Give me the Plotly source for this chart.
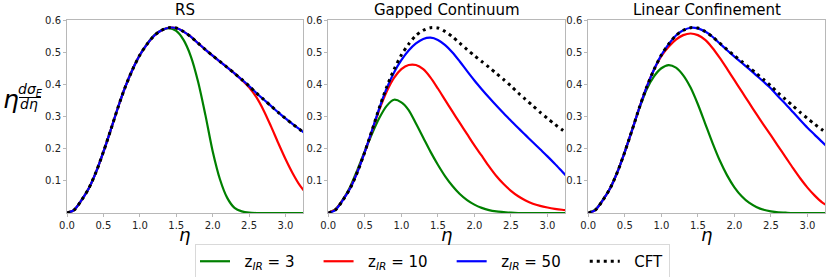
import plotly.graph_objects as go
from plotly.subplots import make_subplots

# ---------------- data ----------------
eta = [0.0, 0.1, 0.2, 0.3, 0.4, 0.5, 0.6, 0.7, 0.8, 0.9,
       1.0, 1.1, 1.2, 1.3, 1.4, 1.5, 1.6, 1.7, 1.8, 1.9,
       2.0, 2.1, 2.2, 2.3, 2.4, 2.5, 2.6, 2.7, 2.8, 2.9,
       3.0, 3.1, 3.2, 3.3]

cft = [0.000, 0.010, 0.040, 0.077, 0.128, 0.190, 0.258, 0.328, 0.392, 0.446,
       0.491, 0.525, 0.552, 0.568, 0.576, 0.575, 0.564, 0.548, 0.528, 0.508,
       0.489, 0.471, 0.453, 0.434, 0.415, 0.395, 0.373, 0.353, 0.333, 0.313,
       0.294, 0.276, 0.259, 0.242]

# RS
rs_z3 = [0.000, 0.010, 0.040, 0.077, 0.128, 0.190, 0.258, 0.328, 0.392, 0.446,
         0.491, 0.526, 0.553, 0.569, 0.575, 0.566, 0.538, 0.487, 0.408, 0.305,
         0.192, 0.105, 0.047, 0.016, 0.005, 0.001, 0.000, 0.000, 0.000, 0.000,
         0.000, 0.000, 0.000, 0.000]
rs_z10 = [0.000, 0.010, 0.040, 0.077, 0.128, 0.190, 0.258, 0.328, 0.392, 0.446,
          0.491, 0.525, 0.552, 0.568, 0.576, 0.575, 0.564, 0.548, 0.528, 0.508,
          0.489, 0.471, 0.453, 0.434, 0.414, 0.391, 0.360, 0.319, 0.270, 0.218,
          0.168, 0.123, 0.085, 0.057]
rs_z50 = [0.000, 0.010, 0.040, 0.077, 0.128, 0.190, 0.258, 0.328, 0.392, 0.446,
          0.491, 0.525, 0.552, 0.568, 0.576, 0.575, 0.564, 0.548, 0.528, 0.508,
          0.489, 0.471, 0.453, 0.434, 0.415, 0.395, 0.373, 0.353, 0.333, 0.313,
          0.294, 0.276, 0.259, 0.242]

# Gapped Continuum
gc_z3 = [0.000, 0.012, 0.042, 0.082, 0.135, 0.192, 0.247, 0.296, 0.333, 0.352,
         0.344, 0.320, 0.278, 0.234, 0.190, 0.150, 0.114, 0.084, 0.059, 0.040,
         0.026, 0.016, 0.009, 0.005, 0.003, 0.001, 0.000, 0.000, 0.000, 0.000,
         0.000, 0.000, 0.000, 0.000]
gc_z10 = [0.000, 0.011, 0.041, 0.078, 0.129, 0.190, 0.256, 0.322, 0.378, 0.420,
          0.447, 0.460, 0.460, 0.447, 0.421, 0.387, 0.351, 0.315, 0.280, 0.245,
          0.210, 0.178, 0.145, 0.115, 0.090, 0.069, 0.052, 0.039, 0.029, 0.022,
          0.017, 0.013, 0.010, 0.008]
gc_z50 = [0.000, 0.010, 0.040, 0.077, 0.128, 0.190, 0.258, 0.327, 0.388, 0.437,
          0.475, 0.505, 0.527, 0.541, 0.545, 0.538, 0.522, 0.499, 0.471, 0.441,
          0.412, 0.385, 0.359, 0.334, 0.310, 0.287, 0.264, 0.242, 0.220, 0.198,
          0.176, 0.153, 0.129, 0.105]

# Linear Confinement
lc_z3 = [0.000, 0.011, 0.041, 0.078, 0.129, 0.190, 0.258, 0.326, 0.385, 0.425,
         0.450, 0.460, 0.452, 0.428, 0.390, 0.338, 0.278, 0.218, 0.163, 0.117,
         0.080, 0.052, 0.032, 0.019, 0.010, 0.005, 0.002, 0.001, 0.000, 0.000,
         0.000, 0.000, 0.000, 0.000]
lc_z10 = [0.000, 0.010, 0.040, 0.077, 0.128, 0.190, 0.258, 0.328, 0.392, 0.446,
          0.488, 0.517, 0.539, 0.553, 0.558, 0.553, 0.538, 0.513, 0.482, 0.448,
          0.413, 0.378, 0.343, 0.308, 0.274, 0.241, 0.207, 0.174, 0.140, 0.108,
          0.079, 0.054, 0.033, 0.020]
lc_z50 = [0.000, 0.010, 0.040, 0.077, 0.128, 0.190, 0.258, 0.328, 0.392, 0.446,
          0.491, 0.525, 0.552, 0.568, 0.576, 0.574, 0.564, 0.548, 0.527, 0.506,
          0.486, 0.467, 0.448, 0.428, 0.408, 0.387, 0.362, 0.339, 0.314, 0.289,
          0.265, 0.243, 0.221, 0.200]

panel_titles = ["RS", "Gapped Continuum", "Linear Confinement"]
series_labels = ["z<sub><i>IR</i></sub> = 3", "z<sub><i>IR</i></sub> = 10",
                 "z<sub><i>IR</i></sub> = 50", "CFT"]
series_colors = ["#008000", "#ff0000", "#0000ff", "#000000"]
panel_data = [
    [rs_z3, rs_z10, rs_z50],
    [gc_z3, gc_z10, gc_z50],
    [lc_z3, lc_z10, lc_z50],
]
x_ticks = [0.0, 0.5, 1.0, 1.5, 2.0, 2.5, 3.0]
x_ticklabels = ["0.0", "0.5", "1.0", "1.5", "2.0", "2.5", "3.0"]
y_ticks = [0.1, 0.2, 0.3, 0.4, 0.5, 0.6]
y_ticklabels = ["0.1", "0.2", "0.3", "0.4", "0.5", "0.6"]
x_title = "<i>η</i>"

# ---------------- figure ----------------
W, H = 830, 277
ML, MR, MT, MB = 67, 5, 20, 64
FONT = "DejaVu Sans"

fig = make_subplots(rows=1, cols=3)

domains = [[0.0, 0.3113], [0.3447, 0.657], [0.6877, 1.0]]

plot_h = H - MT - MB
plot_w = W - ML - MR


def px_x(x):
    return (x - ML) / plot_w


def px_y(y):
    return (H - MB - y) / plot_h


pad_l = "&nbsp;&nbsp;"
pad_r = "&nbsp;&nbsp;&nbsp;&nbsp;"

for p, series in enumerate(panel_data):
    for s, vals in enumerate(series):
        fig.add_trace(go.Scatter(
            x=eta, y=vals, mode="lines",
            line=dict(color=series_colors[s], width=2.2, shape="spline", smoothing=0.8),
            name=pad_l + series_labels[s] + (pad_r if s < 3 else ""),
            legendgroup=str(s), showlegend=(p == 0),
        ), row=1, col=p + 1)
    fig.add_trace(go.Scatter(
        x=eta, y=cft, mode="lines",
        line=dict(color=series_colors[3], width=3, dash="3px,4px", shape="spline", smoothing=0.8),
        name=pad_l + series_labels[3],
        legendgroup="3", showlegend=(p == 0),
    ), row=1, col=p + 1)

axis_common = dict(
    showline=True, linecolor="#b8b8b8", linewidth=1, mirror=True,
    ticks="outside", ticklen=3, tickcolor="#b8b8b8", tickwidth=1,
    showgrid=False, zeroline=False, automargin=False,
    tickfont=dict(family=FONT, size=10, color="#222222"),
)

for p in range(3):
    xa = "xaxis" if p == 0 else f"xaxis{p + 1}"
    ya = "yaxis" if p == 0 else f"yaxis{p + 1}"
    fig.layout[xa].update(
        domain=domains[p], range=[0, 3.24],
        tickvals=x_ticks, ticktext=x_ticklabels, **axis_common)
    fig.layout[ya].update(
        domain=[0, 1], range=[0, 0.6],
        tickvals=y_ticks, ticktext=y_ticklabels, **axis_common)
    xc = (domains[p][0] + domains[p][1]) / 2
    # panel title
    fig.add_annotation(
        text=panel_titles[p], xref="paper", yref="paper",
        x=xc, y=px_y(10), xanchor="center", yanchor="middle",
        showarrow=False, font=dict(family=FONT, size=15, color="#000"))
    # x-axis title
    fig.add_annotation(
        text=x_title, xref="paper", yref="paper",
        x=xc, y=px_y(234), xanchor="center", yanchor="middle",
        showarrow=False, font=dict(family=FONT, size=18, color="#000"))

# y-axis label: eta * d sigma_E / d eta  (built as text pieces)
fig.add_annotation(text="<i>η</i>", xref="paper", yref="paper",
                   x=px_x(11.5), y=px_y(99), xanchor="center", yanchor="middle",
                   showarrow=False, font=dict(family=FONT, size=25, color="#000"))
fig.add_annotation(text="<i>dσ<sub>E</sub></i>", xref="paper", yref="paper",
                   x=px_x(30), y=px_y(90), xanchor="center", yanchor="middle",
                   showarrow=False, font=dict(family=FONT, size=14, color="#000"))
fig.add_annotation(text="<i>dη</i>", xref="paper", yref="paper",
                   x=px_x(29), y=px_y(104), xanchor="center", yanchor="middle",
                   showarrow=False, font=dict(family=FONT, size=14, color="#000"))
fig.add_shape(type="line", xref="paper", yref="paper",
              x0=px_x(19), x1=px_x(41), y0=px_y(97.5), y1=px_y(97.5),
              line=dict(color="#000", width=1))

fig.update_layout(
    width=W, height=H,
    margin=dict(l=ML, r=MR, t=MT, b=MB, autoexpand=False),
    paper_bgcolor="white", plot_bgcolor="white",
    font=dict(family=FONT, color="#000"),
    showlegend=True,
    legend=dict(
        orientation="h", x=px_x(195), xanchor="left",
        y=px_y(244), yanchor="top",
        bordercolor="#d9d9d9", borderwidth=1, bgcolor="white",
        font=dict(family=FONT, size=15, color="#000"),
        itemwidth=30,
    ),
)

fig.write_html("out.html",
               config={"displayModeBar": False},
               post_script="document.body.style.margin='0';document.body.style.overflow='hidden';")
